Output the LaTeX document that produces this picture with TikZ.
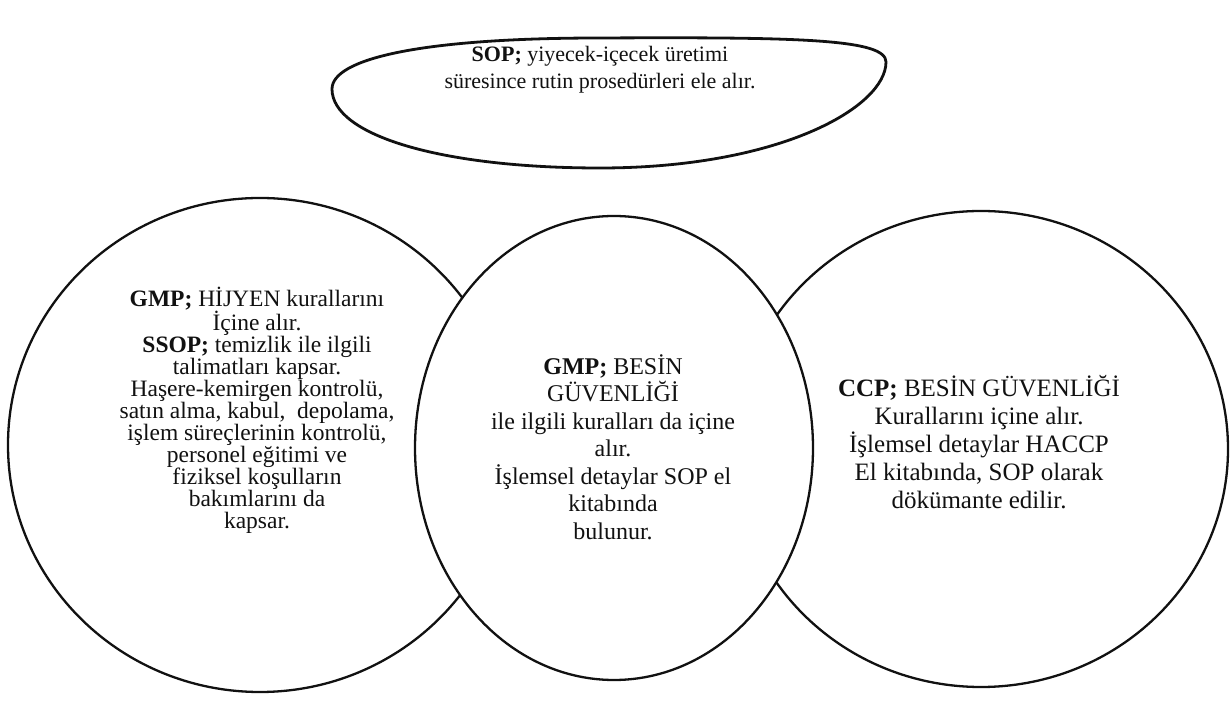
\documentclass[tikz,border=0pt]{standalone}
\usepackage{fontspec}
\setmainfont{Liberation Serif}
\usetikzlibrary{shapes.geometric,positioning}
\definecolor{ovInk}{HTML}{111111}
\tikzset{
  every node/.style={text=ovInk},
  topOval/.style={draw=ovInk, line width=2.8, fill=white},
  sideCircle/.style={ellipse, draw=ovInk, line width=2.3, fill=white,
    inner sep=0pt, outer sep=0pt},
  midOval/.style={ellipse, draw=ovInk, line width=2.3, fill=white,
    minimum width=398, minimum height=464, inner sep=0pt, outer sep=0pt},
  ovText/.style={align=center, inner sep=0pt},
}
\begin{document}
\begin{tikzpicture}[x=1pt,y=1pt]
  \useasboundingbox (0,0) rectangle (1232,707);

  % Top oval, slightly skewed as in the scan.
  \coordinate (sop) at (600,603);
  \draw[topOval] (332,618)
    .. controls (332,648) and (420,669) .. (600,669)
    .. controls (800,670) and (886,668) .. (886,645)
    .. controls (886,600) and (780,539) .. (600,539)
    .. controls (440,539) and (332,572) .. cycle;
  \node[ovText, font=\fontsize{22}{27}\selectfont] (soptext)
    at ([yshift=34.5]sop)
    {\textbf{SOP;} yiyecek-içecek üretimi\\
     süresince rutin prosedürleri ele alır.};

  % Side circles, the middle oval lies on top of them.
  \node[sideCircle, minimum width=504, minimum height=494] (gmpa) at (260,262) {};
  \node[sideCircle, minimum width=494, minimum height=476] (ccp) at (981,258) {};
  \node[midOval] (gmpb) at (614,259) {};

  \node[ovText, font=\fontsize{23.5}{22}\selectfont] (gmpatext)
    at ([xshift=-3,yshift=35]gmpa.center)
    {\textbf{GMP;} HİJYEN kurallarını\\
     İçine alır.\\
     \textbf{SSOP;} temizlik ile ilgili\\
     talimatları kapsar.\\
     Haşere-kemirgen kontrolü,\\
     satın alma, kabul,\ \ depolama,\\
     işlem süreçlerinin kontrolü,\\
     personel eğitimi ve\\
     fiziksel koşulların\\
     bakımlarını da\\
     kapsar.};

  \node[ovText, font=\fontsize{24}{27.5}\selectfont] (gmpbtext)
    at ([xshift=-1,yshift=1]gmpb.center)
    {\textbf{GMP;} BESİN\\
     GÜVENLİĞİ\\
     ile ilgili kuralları da içine\\
     alır.\\
     İşlemsel detaylar SOP el\\
     kitabında\\
     bulunur.};

  \node[ovText, font=\fontsize{25}{28}\selectfont] (ccptext)
    at ([xshift=-2,yshift=7]ccp.center)
    {\textbf{CCP;} BESİN GÜVENLİĞİ\\
     Kurallarını içine alır.\\
     İşlemsel detaylar HACCP\\
     El kitabında, SOP olarak\\
     dökümante edilir.};
\end{tikzpicture}
\end{document}
